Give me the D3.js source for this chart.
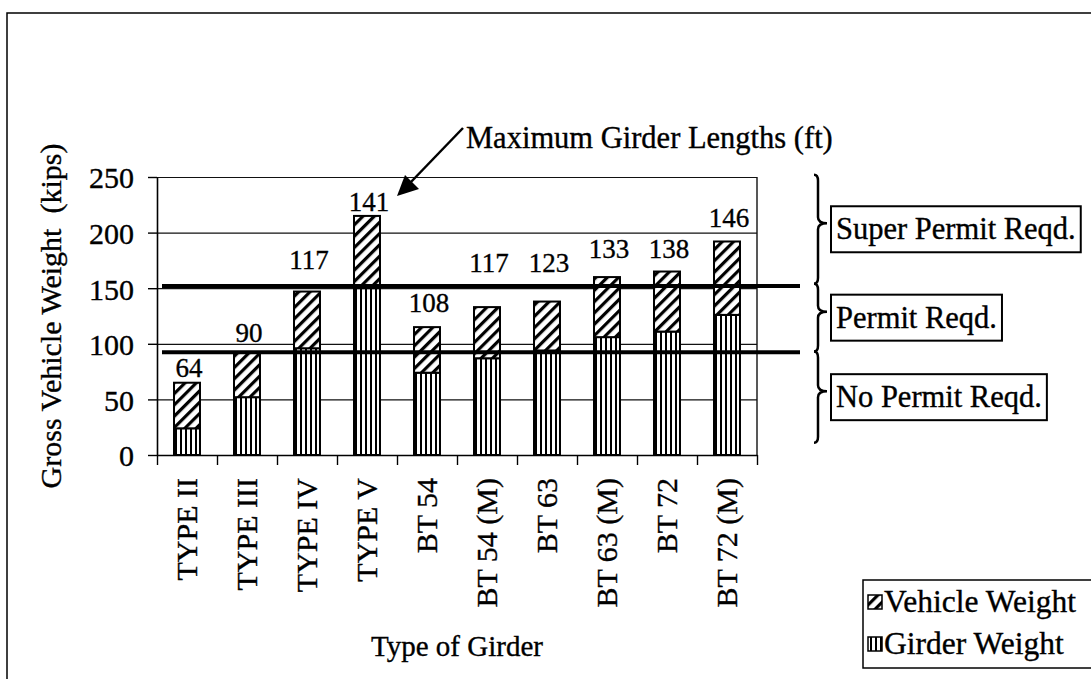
<!DOCTYPE html>
<html>
<head>
<meta charset="utf-8">
<script src="https://cdn.jsdelivr.net/npm/d3@7.9.0/dist/d3.min.js"></script>
<style>
  html, body { margin: 0; padding: 0; background: #fff; }
  svg { display: block; font-family: "Liberation Serif", "Times New Roman", serif; }
  text { fill: #000; stroke: #000; stroke-width: 0.35px; }
</style>
</head>
<body>
<svg id="chart" width="1091" height="679"></svg>
<script>
// girder types along the x axis
const girders = ['TYPE II', 'TYPE III', 'TYPE IV', 'TYPE V', 'BT 54', 'BT 54 (M)', 'BT 63', 'BT 63 (M)', 'BT 72', 'BT 72 (M)'];
// kips
const girderWeight = [24, 52, 96, 150, 74, 87, 94, 106, 111, 126];
const vehicleWeight = [41, 40, 51, 65, 41, 46, 44, 54, 54, 66];
// max girder length (ft) shown over each bar, and the kips level each label sits at
const maxLengthFt = [64, 90, 117, 141, 108, 117, 123, 133, 138, 146];
const lengthLabelKips = [70, 102, 167, 219, 129, 165, 165, 177, 177, 205];
const yTicks = [0, 50, 100, 150, 200, 250];
// permit thresholds (kips): super permit above first, permit above second
const permitLimits = [152, 92.5];
const permitZones = ['Super Permit Reqd.', 'Permit Reqd.', 'No Permit Reqd.'];
const zoneBounds = [252, 154, 93, 11]; // kips spanned by each brace
const seriesNames = ['Vehicle Weight', 'Girder Weight'];

const svg = d3.select('#chart');
const plotL = 157, plotR = 757, plotT = 177, plotB = 455;

const x = d3.scaleBand().domain(girders).range([plotL, plotR]).paddingInner(0.567).paddingOuter(0.2835);
const xEdge = d3.scaleLinear().domain([0, girders.length]).range([plotL, plotR]);
const y = d3.scaleLinear().domain([0, 250]).range([plotB, plotT]);

// patterns
const defs = svg.append('defs');
const vp = defs.append('pattern').attr('id', 'vstripe').attr('patternUnits', 'userSpaceOnUse')
    .attr('width', 5).attr('height', 10);
vp.append('rect').attr('width', 5).attr('height', 10).attr('fill', '#fff');
vp.append('rect').attr('width', 2).attr('height', 10).attr('fill', '#000');
const hp = defs.append('pattern').attr('id', 'hatch').attr('patternUnits', 'userSpaceOnUse')
    .attr('width', 8).attr('height', 8).attr('patternTransform', 'rotate(45)');
hp.append('rect').attr('width', 8).attr('height', 8).attr('fill', '#fff');
hp.append('rect').attr('width', 3.2).attr('height', 8).attr('fill', '#000');

// outer frame (page cut off right and bottom)
svg.append('path').attr('d', 'M7,679 L7,13 L1091,13').attr('fill', 'none')
    .attr('stroke', '#000').attr('stroke-width', 1.5);

// gridlines
svg.append('g').attr('transform', `translate(${plotL},0)`)
    .call(d3.axisLeft(y).tickValues(yTicks.slice(1)).tickSize(-(plotR - plotL)).tickFormat(''))
    .call(g => g.select('.domain').remove())
    .call(g => g.selectAll('line').attr('stroke', '#111').attr('stroke-width', 1.2));
svg.append('line').attr('x1', plotR).attr('x2', plotR).attr('y1', plotT).attr('y2', plotB)
    .attr('stroke', '#111').attr('stroke-width', 1.4);

// stacked bars
const stacked = girders.map((g, i) => ({ name: g, girder: girderWeight[i], vehicle: vehicleWeight[i] }));
const bars = svg.append('g');
bars.selectAll('rect.girder').data(stacked).join('rect').attr('class', 'girder')
    .attr('x', d => x(d.name)).attr('width', x.bandwidth())
    .attr('y', d => y(d.girder)).attr('height', d => y(0) - y(d.girder))
    .attr('fill', 'url(#vstripe)').attr('stroke', '#000').attr('stroke-width', 2);
bars.selectAll('rect.vehicle').data(stacked).join('rect').attr('class', 'vehicle')
    .attr('x', d => x(d.name)).attr('width', x.bandwidth())
    .attr('y', d => y(d.girder + d.vehicle)).attr('height', d => y(d.girder) - y(d.girder + d.vehicle))
    .attr('fill', 'url(#hatch)').attr('stroke', '#000').attr('stroke-width', 2);

// y axis
svg.append('g').attr('transform', `translate(${plotL},0)`)
    .call(d3.axisLeft(y).tickValues(yTicks).tickSize(9).tickSizeOuter(0).tickPadding(14))
    .call(g => g.select('.domain').attr('stroke-width', 1.6))
    .call(g => g.selectAll('line').attr('stroke-width', 1.4))
    .call(g => g.selectAll('text').attr('font-size', 30).attr('font-family', 'Liberation Serif').attr('dy', '0.36em'));

// x axis: ticks between categories
svg.append('g').attr('transform', `translate(0,${plotB})`)
    .call(d3.axisBottom(xEdge).tickValues(d3.range(girders.length + 1)).tickSize(10).tickSizeOuter(0).tickFormat(''))
    .call(g => g.select('.domain').attr('stroke-width', 1.6))
    .call(g => g.selectAll('line').attr('stroke-width', 1.4));

svg.append('g').selectAll('text').data(girders).join('text')
    .attr('transform', d => `translate(${x(d) + x.bandwidth() / 2 + 10},478) rotate(-90)`)
    .attr('text-anchor', 'end').attr('font-size', 30).text(d => d);

// length labels
svg.append('g').selectAll('text').data(maxLengthFt).join('text')
    .attr('x', (d, i) => x(girders[i]) + x.bandwidth() / 2 + 2)
    .attr('y', (d, i) => y(lengthLabelKips[i]))
    .attr('text-anchor', 'middle').attr('font-size', 27).text(d => d);

// permit threshold lines
svg.append('g').selectAll('line').data(permitLimits).join('line')
    .attr('x1', 162).attr('x2', 800).attr('y1', d => y(d)).attr('y2', d => y(d))
    .attr('stroke', '#000').attr('stroke-width', 4);

// braces + permit boxes
function brace(xs, y0, y1, tip) {
    const t = 9;
    return `M${xs - 4},${y0} Q${xs},${y0} ${xs},${y0 + 6} L${xs},${tip - 6} Q${xs},${tip} ${xs + t},${tip}` +
        ` Q${xs},${tip} ${xs},${tip + 6} L${xs},${y1 - 6} Q${xs},${y1} ${xs - 4},${y1}`;
}
const zones = svg.append('g');
permitZones.forEach((label, i) => {
    const y0 = y(zoneBounds[i]), y1 = y(zoneBounds[i + 1]);
    const mid = (y0 + y1) / 2;
    zones.append('path').attr('d', brace(818, y0, y1, mid - 6))
        .attr('fill', 'none').attr('stroke', '#000').attr('stroke-width', 2.5);
    const t = zones.append('text').attr('x', 836).attr('y', mid + 10).attr('font-size', 30.5).text(label);
    const w = t.node().getComputedTextLength();
    zones.insert('rect', 'text').attr('x', 831).attr('y', mid - 23).attr('width', w + 10).attr('height', 46)
        .attr('fill', '#fff').attr('stroke', '#000').attr('stroke-width', 2);
});

// annotation with arrow
svg.append('text').attr('x', 466).attr('y', 148).attr('font-size', 30.5).text('Maximum Girder Lengths (ft)');
svg.append('line').attr('x1', 463).attr('y1', 128).attr('x2', 410).attr('y2', 183)
    .attr('stroke', '#000').attr('stroke-width', 2.5);
svg.append('path').attr('d', 'M397,196 L405,175 L419,189 Z').attr('fill', '#000');

// axis titles
svg.append('text').attr('transform', `translate(61,${(plotT + plotB) / 2}) rotate(-90)`)
    .attr('text-anchor', 'middle').attr('font-size', 30).attr('xml:space', 'preserve')
    .text('Gross Vehicle Weight  (kips)');
svg.append('text').attr('x', (plotL + plotR) / 2).attr('y', 656)
    .attr('text-anchor', 'middle').attr('font-size', 29).text('Type of Girder');

// legend
const lg = svg.append('g');
lg.append('rect').attr('x', 863).attr('y', 580).attr('width', 260).attr('height', 88)
    .attr('fill', '#fff').attr('stroke', '#000').attr('stroke-width', 1.5);
seriesNames.forEach((name, i) => {
    const cy = 602 + i * 42;
    lg.append('rect').attr('x', 868).attr('y', cy - 7).attr('width', 14).attr('height', 14)
        .attr('fill', i === 0 ? 'url(#hatch)' : 'url(#vstripe)').attr('stroke', '#000').attr('stroke-width', 1.5);
    lg.append('text').attr('x', 884).attr('y', cy + 10).attr('font-size', 31.5).text(name);
});
</script>
</body>
</html>
